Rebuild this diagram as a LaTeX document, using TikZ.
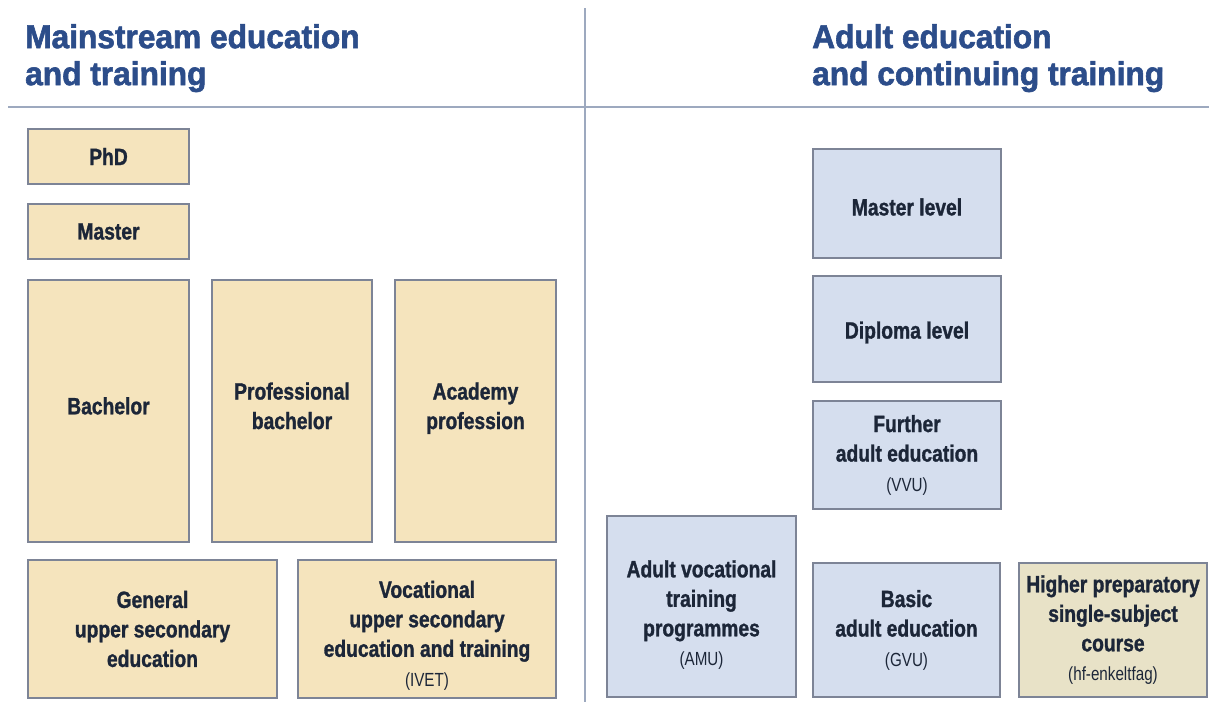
\documentclass[tikz,border=0pt]{standalone}
\usepackage{fontspec}
\setmainfont{Liberation Sans}
\newfontfamily\boxfont{Liberation Sans}[FakeStretch=0.82,FakeBold=1.2]
\newfontfamily\smallfont{Liberation Sans}[FakeStretch=0.8]
\newfontfamily\headfont{Liberation Sans}[FakeStretch=0.96,FakeBold=1.8]
\definecolor{titleblue}{HTML}{2C4D8A}
\definecolor{txt}{HTML}{1C2638}
\definecolor{beige}{HTML}{F5E4BD}
\definecolor{paleblue}{HTML}{D5DEEE}
\definecolor{greige}{HTML}{E8E2C7}
\definecolor{boxline}{HTML}{7D8496}
\definecolor{rule}{HTML}{9DA9BF}
\tikzset{
  edbox/.style={draw=boxline, line width=1.4pt, inner sep=2pt, align=center, text=txt,
    font=\boxfont\bfseries\fontsize{23.5}{29.5}\selectfont},
  mainbox/.style={edbox, fill=beige},
  adultbox/.style={edbox, fill=paleblue},
  prepbox/.style={edbox, fill=greige},
  heading/.style={anchor=north west, inner sep=0pt, align=left, text=titleblue,
    font=\headfont\bfseries\fontsize{33}{37}\selectfont},
}
\newcommand{\sm}[1]{{\smallfont\mdseries\fontsize{19}{21}\selectfont #1}}
\begin{document}
\begin{tikzpicture}[x=1pt,y=-1pt]
\useasboundingbox (0,0) rectangle (1209,702);
\fill[white] (0,0) rectangle (1209,702);
% rules
\coordinate (hl) at (8,107);
\coordinate (hr) at (1209,107);
\coordinate (vt) at (585,8);
\coordinate (vb) at (585,702);
\draw[rule, line width=1.3pt] (hl) -- (hr);
\draw[rule, line width=1.3pt] (vt) -- (vb);
% headings
\node[heading] (hmain) at (25,24) {Mainstream education\\and training};
\node[heading] (hadult) at (812,24) {Adult education\\and continuing training};
% mainstream boxes
\node[mainbox, minimum width=161, minimum height=55] (phd) at (108.5,156.5) {PhD};
\node[mainbox, minimum width=161, minimum height=55] (master) at (108.5,231.5) {Master};
\node[mainbox, minimum width=161, minimum height=262] (bach) at (108.5,411) {Bachelor\\[-19pt]};
\node[mainbox, minimum width=160, minimum height=262] (profbach) at (292,411) {Professional\\bachelor\\[-19pt]};
\node[mainbox, minimum width=161, minimum height=262] (academy) at (475.5,411) {Academy\\profession\\[-19pt]};
\node[mainbox, minimum width=249, minimum height=138] (general) at (152.5,629) {General\\upper secondary\\education};
\node[mainbox, minimum width=258, minimum height=138] (ivet) at (427,629) {\rule{0pt}{30pt}Vocational\\upper secondary\\education and training\\\sm{(IVET)}};
% adult boxes
\node[adultbox, minimum width=188, minimum height=109] (mlevel) at (907,203.5) {\rule{0pt}{24pt}Master level};
\node[adultbox, minimum width=188, minimum height=106] (dlevel) at (907,329) {\rule{0pt}{24pt}Diploma level};
\node[adultbox, minimum width=188, minimum height=108] (vvu) at (907,455) {Further\\adult education\\\sm{(VVU)}};
\node[adultbox, minimum width=189, minimum height=181] (amu) at (701.5,606.5) {\rule{0pt}{34pt}Adult vocational\\training\\programmes\\\sm{(AMU)}};
\node[adultbox, minimum width=187, minimum height=134] (gvu) at (906.5,630) {Basic\\adult education\\\sm{(GVU)}};
\node[prepbox, minimum width=188, minimum height=134] (hf) at (1113,630) {Higher preparatory\\single-subject\\course\\\sm{(hf-enkeltfag)}};
\end{tikzpicture}
\end{document}
